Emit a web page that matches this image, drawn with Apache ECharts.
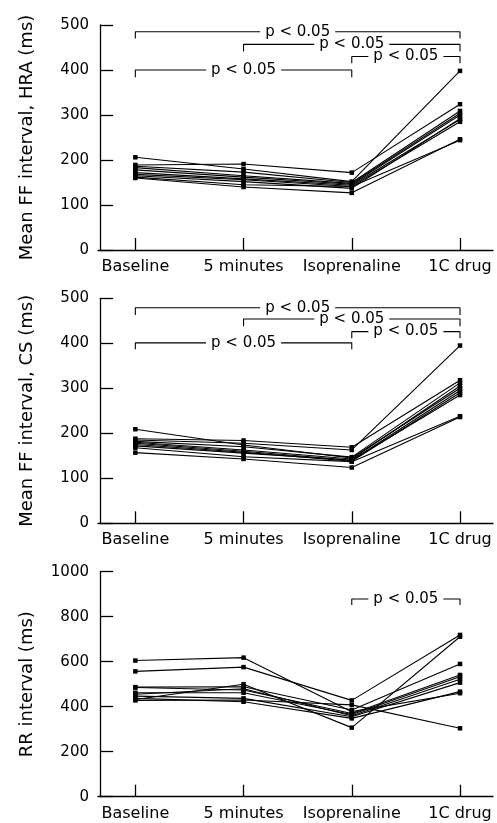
<!DOCTYPE html>
<html>
<head>
<meta charset="utf-8">
<script src="https://cdn.jsdelivr.net/npm/echarts@6/dist/echarts.min.js"></script>
<style>
html,body{margin:0;padding:0;background:#fff;}
#chart{width:497px;height:823px;}
</style>
</head>
<body>
<div id="chart"></div>
<script>
const CATEGORIES = ['Baseline', '5 minutes', 'Isoprenaline', '1C drug'];

const HRA_BASELINE = [206, 189, 186, 183, 178, 172, 168, 165, 162, 160];
const HRA_5MIN     = [180, 191, 173, 165, 162, 158, 156, 152, 145, 140];
const HRA_ISO      = [152, 172, 150, 148, 146, 144, 141, 137, 141, 127];
const HRA_1C       = [398, 324, 309, 304, 300, 290, 285, 292, 244, 246];

const CS_BASELINE = [209, 188, 185, 182, 180, 178, 175, 172, 168, 157];
const CS_5MIN     = [174, 184, 178, 170, 163, 160, 158, 156, 148, 143];
const CS_ISO      = [145, 169, 163, 147, 143, 140, 138, 140, 137, 124];
const CS_1C       = [300, 318, 395, 312, 305, 295, 290, 285, 238, 236];

const RR_BASELINE = [605, 557, 487, 485, 462, 455, 447, 437, 432, 428];
const RR_5MIN     = [618, 576, 489, 474, 462, 480, 437, 422, 500, 430];
const RR_ISO      = [378, 428, 385, 370, 365, 360, 355, 348, 307, 408];
const RR_1C       = [460, 719, 590, 541, 533, 522, 507, 467, 711, 304];

// brackets: [fromCategory, toCategory, lineValue, endTickValue]
const HRA_BRACKETS = [[0, 3, 485, 470], [1, 3, 457, 441], [2, 3, 430, 415], [0, 2, 400, 384]];
const CS_BRACKETS  = [[0, 3, 479, 463], [1, 3, 454, 438], [2, 3, 426, 411], [0, 2, 401, 387]];
const RR_BRACKETS  = [[2, 3, 879, 852]];
const P_LABEL = 'p < 0.05';

const Y_NAMES = ['Mean FF interval, HRA (ms)', 'Mean FF interval, CS (ms)', 'RR interval (ms)'];
const Y_MAX = [500, 500, 1000];
const Y_INTERVAL = [100, 100, 200];

const FONT = 'DejaVu Sans';
const panels = [
  [HRA_BASELINE, HRA_5MIN, HRA_ISO, HRA_1C, HRA_BRACKETS],
  [CS_BASELINE, CS_5MIN, CS_ISO, CS_1C, CS_BRACKETS],
  [RR_BASELINE, RR_5MIN, RR_ISO, RR_1C, RR_BRACKETS]
];
const gridTops = [25, 298.3, 571.7];
// category k is placed at x = k + 0.325 on a value axis; the y axis sits at x = 0
const pos = k => k + 0.325;
const CAT_POS = CATEGORIES.map((_, k) => pos(k));
const X_MIN = -0.02, X_MAX = 3.63;

const grid = [], xAxis = [], yAxis = [], series = [];
panels.forEach((p, i) => {
  grid.push({left: 98, right: 4, top: gridTops[i], height: 225});
  xAxis.push({
    type: 'value', gridIndex: i, min: X_MIN, max: X_MAX,
    splitLine: {show: false},
    axisLine: {show: true, lineStyle: {color: '#000', width: 1.3}},
    axisTick: {show: true, inside: true, length: 12, customValues: CAT_POS, lineStyle: {color: '#000', width: 1.3}},
    axisLabel: {customValues: CAT_POS, formatter: v => CATEGORIES[Math.round(v - 0.325)] || '', fontSize: 16, color: '#000', margin: 9, fontFamily: FONT}
  });
  yAxis.push({
    type: 'value', gridIndex: i, min: 0, max: Y_MAX[i], interval: Y_INTERVAL[i],
    splitLine: {show: false},
    axisLine: {show: true, onZero: true, lineStyle: {color: '#000', width: 1.3}},
    axisTick: {show: true, inside: true, length: 13, lineStyle: {color: '#000', width: 1.3}},
    axisLabel: {fontSize: 15, color: '#000', margin: 9, fontFamily: FONT, formatter: v => String(v)},
    name: Y_NAMES[i], nameLocation: 'middle', nameGap: 62,
    nameTextStyle: {fontSize: 18, color: '#000', fontFamily: FONT}
  });
  const [b, f, iso, d, brackets] = p;
  b.forEach((_, k) => {
    series.push({
      type: 'line', xAxisIndex: i, yAxisIndex: i,
      data: [[pos(0), b[k]], [pos(1), f[k]], [pos(2), iso[k]], [pos(3), d[k]]],
      symbol: 'rect', symbolSize: 4.5, showSymbol: true,
      lineStyle: {color: '#000', width: 1.1}, itemStyle: {color: '#000'},
      silent: true, animation: false, z: 3
    });
  });
  brackets.forEach(br => {
    const [x1, x2, yl, ye] = br;
    series.push({
      type: 'line', xAxisIndex: i, yAxisIndex: i,
      data: [[pos(x1), ye], [pos(x1), yl], [pos(x2), yl], [pos(x2), ye]],
      symbol: 'none', lineStyle: {color: '#000', width: 1.1},
      silent: true, animation: false, z: 2
    });
    series.push({
      type: 'scatter', xAxisIndex: i, yAxisIndex: i,
      data: [[pos((x1 + x2) / 2), yl]], symbolSize: 1, itemStyle: {color: '#fff', opacity: 1},
      label: {show: true, position: 'inside', formatter: P_LABEL, fontSize: 15, color: '#000',
        textBorderWidth: 0, opacity: 1,
        fontFamily: FONT, backgroundColor: '#fff', padding: [0, 5], lineHeight: 14},
      silent: true, animation: false, z: 4
    });
  });
});

const chart = echarts.init(document.getElementById('chart'), null, {renderer: 'canvas'});
chart.setOption({
  animation: false,
  backgroundColor: '#fff',
  textStyle: {fontFamily: FONT},
  grid, xAxis, yAxis, series
});
</script>
</body>
</html>
